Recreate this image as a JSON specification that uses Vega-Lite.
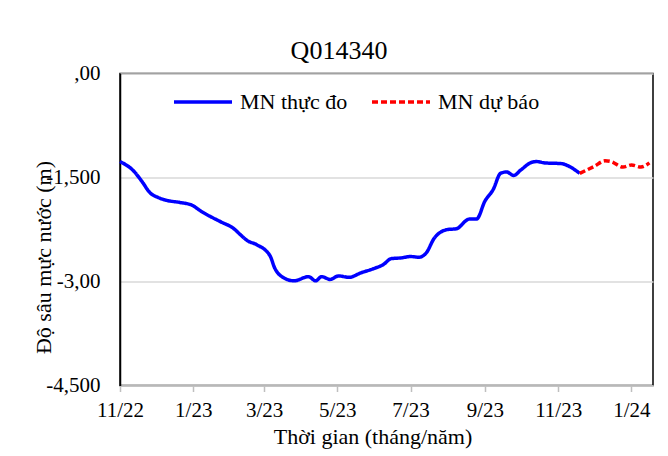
{
  "$schema": "https://vega.github.io/schema/vega-lite/v6.json",
  "autosize": "none",
  "width": 533,
  "height": 312,
  "padding": {"left": 120, "top": 73.5, "right": 15, "bottom": 70.5},
  "background": "white",
  "config": {
    "font": "Liberation Serif",
    "view": {"stroke": "#000000", "strokeWidth": 1.5}
  },
  "title": {
    "text": "Q014340",
    "font": "Liberation Serif",
    "fontSize": 26,
    "fontWeight": "normal",
    "color": "#000000",
    "anchor": "middle",
    "frame": "group",
    "dx": -47.5,
    "baseline": "alphabetic",
    "offset": -22
  },
  "data": {
    "values": [
      {"date": "2022-11-01", "value": -1.27, "series": "MN thực đo"},
      {"date": "2022-11-12", "value": -1.40, "series": "MN thực đo"},
      {"date": "2022-11-19", "value": -1.55, "series": "MN thực đo"},
      {"date": "2022-11-26", "value": -1.72, "series": "MN thực đo"},
      {"date": "2022-12-03", "value": -1.79, "series": "MN thực đo"},
      {"date": "2022-12-10", "value": -1.83, "series": "MN thực đo"},
      {"date": "2022-12-21", "value": -1.86, "series": "MN thực đo"},
      {"date": "2022-12-31", "value": -1.90, "series": "MN thực đo"},
      {"date": "2023-01-07", "value": -1.98, "series": "MN thực đo"},
      {"date": "2023-01-15", "value": -2.06, "series": "MN thực đo"},
      {"date": "2023-01-24", "value": -2.14, "series": "MN thực đo"},
      {"date": "2023-02-04", "value": -2.24, "series": "MN thực đo"},
      {"date": "2023-02-09", "value": -2.32, "series": "MN thực đo"},
      {"date": "2023-02-15", "value": -2.41, "series": "MN thực đo"},
      {"date": "2023-02-23", "value": -2.47, "series": "MN thực đo"},
      {"date": "2023-03-06", "value": -2.63, "series": "MN thực đo"},
      {"date": "2023-03-10", "value": -2.81, "series": "MN thực đo"},
      {"date": "2023-03-15", "value": -2.92, "series": "MN thực đo"},
      {"date": "2023-03-26", "value": -2.99, "series": "MN thực đo"},
      {"date": "2023-04-07", "value": -2.93, "series": "MN thực đo"},
      {"date": "2023-04-13", "value": -2.99, "series": "MN thực đo"},
      {"date": "2023-04-18", "value": -2.93, "series": "MN thực đo"},
      {"date": "2023-04-25", "value": -2.97, "series": "MN thực đo"},
      {"date": "2023-05-02", "value": -2.92, "series": "MN thực đo"},
      {"date": "2023-05-11", "value": -2.94, "series": "MN thực đo"},
      {"date": "2023-05-20", "value": -2.88, "series": "MN thực đo"},
      {"date": "2023-06-01", "value": -2.81, "series": "MN thực đo"},
      {"date": "2023-06-08", "value": -2.76, "series": "MN thực đo"},
      {"date": "2023-06-15", "value": -2.67, "series": "MN thực đo"},
      {"date": "2023-06-23", "value": -2.66, "series": "MN thực đo"},
      {"date": "2023-07-01", "value": -2.64, "series": "MN thực đo"},
      {"date": "2023-07-08", "value": -2.65, "series": "MN thực đo"},
      {"date": "2023-07-14", "value": -2.59, "series": "MN thực đo"},
      {"date": "2023-07-21", "value": -2.37, "series": "MN thực đo"},
      {"date": "2023-08-01", "value": -2.25, "series": "MN thực đo"},
      {"date": "2023-08-08", "value": -2.24, "series": "MN thực đo"},
      {"date": "2023-08-19", "value": -2.10, "series": "MN thực đo"},
      {"date": "2023-08-25", "value": -2.10, "series": "MN thực đo"},
      {"date": "2023-09-01", "value": -1.84, "series": "MN thực đo"},
      {"date": "2023-09-08", "value": -1.67, "series": "MN thực đo"},
      {"date": "2023-09-14", "value": -1.44, "series": "MN thực đo"},
      {"date": "2023-09-19", "value": -1.42, "series": "MN thực đo"},
      {"date": "2023-09-25", "value": -1.47, "series": "MN thực đo"},
      {"date": "2023-10-01", "value": -1.39, "series": "MN thực đo"},
      {"date": "2023-10-10", "value": -1.28, "series": "MN thực đo"},
      {"date": "2023-10-14", "value": -1.27, "series": "MN thực đo"},
      {"date": "2023-10-21", "value": -1.29, "series": "MN thực đo"},
      {"date": "2023-11-04", "value": -1.30, "series": "MN thực đo"},
      {"date": "2023-11-09", "value": -1.33, "series": "MN thực đo"},
      {"date": "2023-11-19", "value": -1.44, "series": "MN thực đo"},
      {"date": "2023-11-19", "value": -1.44, "series": "MN dự báo"},
      {"date": "2023-12-01", "value": -1.34, "series": "MN dự báo"},
      {"date": "2023-12-10", "value": -1.26, "series": "MN dự báo"},
      {"date": "2023-12-15", "value": -1.27, "series": "MN dự báo"},
      {"date": "2023-12-25", "value": -1.35, "series": "MN dự báo"},
      {"date": "2024-01-01", "value": -1.32, "series": "MN dự báo"},
      {"date": "2024-01-09", "value": -1.35, "series": "MN dự báo"},
      {"date": "2024-01-16", "value": -1.29, "series": "MN dự báo"}
    ]
  },
  "mark": {"type": "line", "strokeWidth": 3.5, "interpolate": "monotone"},
  "encoding": {
    "x": {
      "field": "date",
      "type": "temporal",
      "scale": {
        "type": "utc",
        "domain": [
          {"year": 2022, "month": 11, "date": 1, "utc": true},
          {"year": 2024, "month": 1, "date": 19, "utc": true}
        ],
        "nice": false
      },
      "axis": {
        "values": [
          {"year": 2022, "month": 11, "date": 1, "utc": true},
          {"year": 2023, "month": 1, "date": 1, "utc": true},
          {"year": 2023, "month": 3, "date": 1, "utc": true},
          {"year": 2023, "month": 5, "date": 1, "utc": true},
          {"year": 2023, "month": 7, "date": 1, "utc": true},
          {"year": 2023, "month": 9, "date": 1, "utc": true},
          {"year": 2023, "month": 11, "date": 1, "utc": true},
          {"year": 2024, "month": 1, "date": 1, "utc": true}
        ],
        "format": "%-m/%y",
        "grid": false,
        "domainColor": "#bfbfbf",
        "domainWidth": 1.5,
        "tickColor": "#bfbfbf",
        "tickWidth": 1.5,
        "tickSize": 6,
        "labelFont": "Liberation Serif",
        "labelFontSize": 21,
        "labelColor": "#000000",
        "labelPadding": 8,
        "labelFlush": false,
        "labelOverlap": false,
        "title": "Thời gian (tháng/năm)",
        "titleFont": "Liberation Serif",
        "titleFontSize": 22,
        "titleFontWeight": "normal",
        "titleColor": "#000000",
        "titleX": 252.5,
        "titleY": 50.5,
        "titleAlign": "center",
        "titleBaseline": "middle"
      }
    },
    "y": {
      "field": "value",
      "type": "quantitative",
      "scale": {"domain": [-4.5, 0], "nice": false, "zero": false},
      "axis": {
        "values": [0, -1.5, -3, -4.5],
        "labelExpr": "datum.value == 0 ? ',00' : datum.value == -1.5 ? '-1,500' : datum.value == -3 ? '-3,00' : '-4,500'",
        "ticks": false,
        "domainColor": "#000000",
        "domainWidth": 1.5,
        "gridColor": "#d9d9d9",
        "gridWidth": 1.5,
        "labelFont": "Liberation Serif",
        "labelFontSize": 21,
        "labelColor": "#000000",
        "labelPadding": 20,
        "labelFlush": false,
        "labelOverlap": false,
        "title": "Độ sâu mực nước (m)",
        "titleFont": "Liberation Serif",
        "titleFontSize": 22,
        "titleFontWeight": "normal",
        "titleColor": "#000000",
        "titleAngle": 270,
        "titleX": -77,
        "titleY": 183.5,
        "titleAlign": "center",
        "titleBaseline": "middle"
      }
    },
    "color": {
      "field": "series",
      "type": "nominal",
      "scale": {"domain": ["MN thực đo", "MN dự báo"], "range": ["#0000FF", "#FF0000"]},
      "legend": {
        "title": null,
        "orient": "none",
        "direction": "horizontal",
        "legendX": 52,
        "legendY": -2.5,
        "symbolType": "stroke",
        "symbolSize": 3364,
        "symbolStrokeWidth": 3.5,
        "labelFont": "Liberation Serif",
        "labelFontSize": 22,
        "labelColor": "#000000",
        "labelOffset": 6,
        "columnPadding": 17,
        "labelLimit": 300
      }
    },
    "strokeDash": {
      "field": "series",
      "type": "nominal",
      "scale": {"domain": ["MN thực đo", "MN dự báo"], "range": [[1, 0], [6, 3]]},
      "legend": {
        "title": null,
        "orient": "none",
        "direction": "horizontal",
        "legendX": 52,
        "legendY": -2.5,
        "symbolType": "stroke",
        "symbolSize": 3364,
        "symbolStrokeWidth": 3.5,
        "labelFont": "Liberation Serif",
        "labelFontSize": 22,
        "labelColor": "#000000",
        "labelOffset": 6,
        "columnPadding": 17,
        "labelLimit": 300
      }
    }
  }
}
